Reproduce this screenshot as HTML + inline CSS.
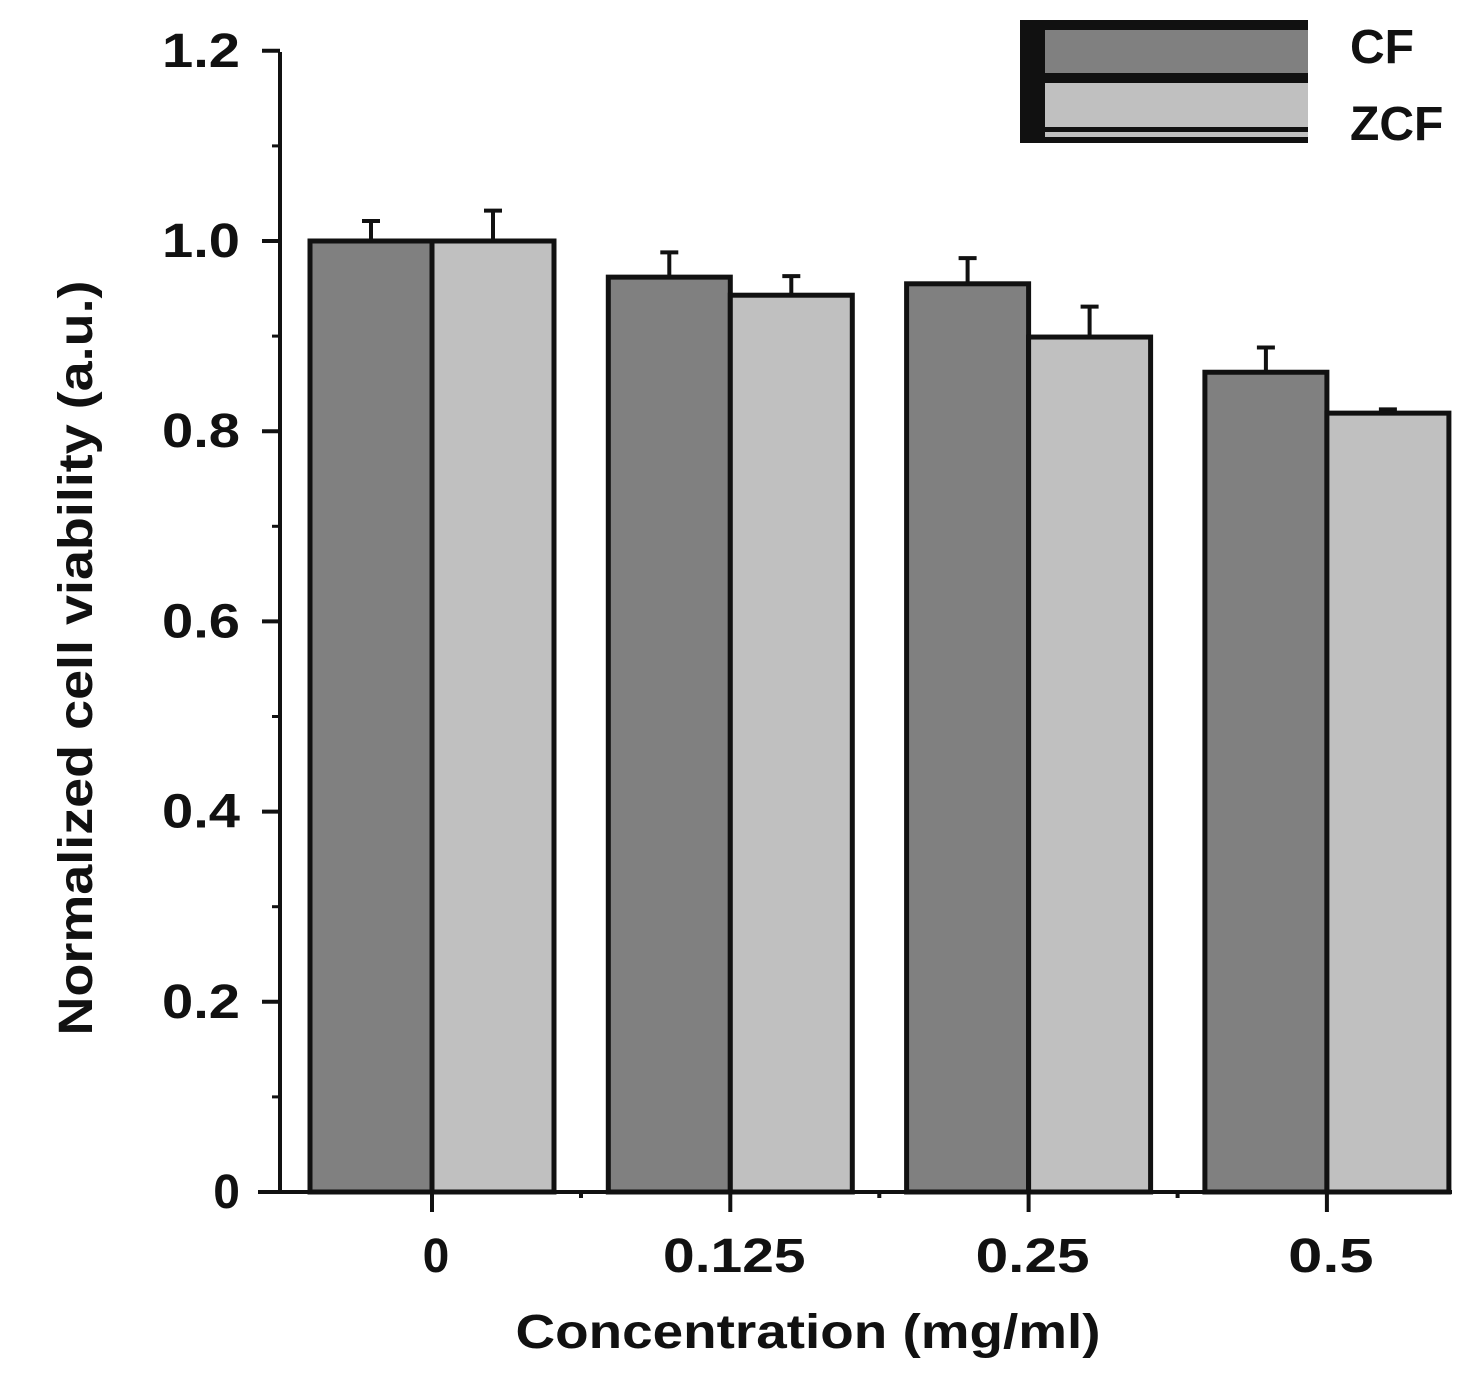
<!DOCTYPE html>
<html><head><style>
body{margin:0;background:#fff}
svg{display:block;font-family:"Liberation Sans",sans-serif}
</style></head><body>
<svg id="chart" width="1472" height="1384"></svg>
<script>
const categories=["0","0.125","0.25","0.5"];
const cfValues=[1.0,0.962,0.955,0.862];
const cfErrors=[0.021,0.026,0.027,0.026];
const zcfValues=[1.0,0.943,0.899,0.819];
const zcfErrors=[0.032,0.020,0.032,0.004];
const yTicks=["0","0.2","0.4","0.6","0.8","1.0","1.2"];
const NS="http://www.w3.org/2000/svg";
const svg=document.getElementById('chart');
function y(v){return 1192-v*951;}
function xc(i){return 432+i*298.3;}
function mk(tag,attrs,parent){const e=document.createElementNS(NS,tag);for(const k in attrs)e.setAttribute(k,attrs[k]);(parent||svg).appendChild(e);return e;}
const series=[{v:cfValues,e:cfErrors,fill:"#808080",off:-122,name:"cf"},{v:zcfValues,e:zcfErrors,fill:"#c0c0c0",off:0,name:"zcf"}];
series.forEach(s=>{
  s.v.forEach((val,i)=>{
    const x0=xc(i)+s.off;
    const top=y(val+s.e[i]);
    const eb=mk('path',{d:`M${x0+61} ${y(val)} V${top} M${x0+52} ${top} H${x0+70}`,stroke:"#111","stroke-width":4,fill:"none"});
    
    
    const r=mk('rect',{x:x0,y:y(val),width:122,height:y(0)-y(val),fill:s.fill,stroke:"#111","stroke-width":5});
    
    
  });
});
const ax=mk('path',{d:"M280 52 V1192 M258 1192 H1452",stroke:"#111","stroke-width":4,fill:"none"});


yTicks.forEach((t,i)=>{
  const v=i*0.2;
  mk('path',{d:`M262 ${y(v)} H280`,stroke:"#111","stroke-width":4});
  if(i<yTicks.length-1) mk('path',{d:`M272 ${y(v+0.1)} H280`,stroke:"#111","stroke-width":3});
  const tx=mk('text',{x:240,y:y(v)+16,"text-anchor":"end","font-size":48,"font-weight":"bold",fill:"#111"});
  if(t.length>1){tx.setAttribute('textLength',78);tx.setAttribute('lengthAdjust','spacingAndGlyphs');}
  tx.textContent=t;
  
  
});
categories.forEach((c,i)=>{
  mk('path',{d:`M${xc(i)} 1192 V1212`,stroke:"#111","stroke-width":4});
  if(i<categories.length-1) mk('path',{d:`M${xc(i)+149} 1192 V1198`,stroke:"#111","stroke-width":4});
  const tx=mk('text',{x:xc(i)+4,y:1272,"text-anchor":"middle","font-size":48,"font-weight":"bold",fill:"#111"});
  if(c.length>1){tx.setAttribute('textLength',c.length*28.5);tx.setAttribute('lengthAdjust','spacingAndGlyphs');}
  tx.textContent=c;
  
  
});
</script>
<svg style="position:absolute;left:0;top:0" width="1472" height="1384">
<text x="808" y="1348" text-anchor="middle" font-size="48" font-weight="bold" fill="#111" textLength="585" lengthAdjust="spacingAndGlyphs" font-family="Liberation Sans,sans-serif">Concentration (mg/ml)</text>
<text transform="translate(92,658) rotate(-90)" text-anchor="middle" font-size="48" font-weight="bold" fill="#111" textLength="755" lengthAdjust="spacingAndGlyphs" font-family="Liberation Sans,sans-serif">Normalized cell viability (a.u.)</text>
<g>
<rect x="1020" y="20" width="288" height="123" fill="#111"/>
<rect x="1045" y="30" width="263" height="43" fill="#808080"/>
<rect x="1045" y="83" width="263" height="44" fill="#c0c0c0"/>
<rect x="1045" y="132" width="263" height="5" fill="#c0c0c0"/>
<text x="1350" y="63" font-size="48" font-weight="bold" fill="#111" font-family="Liberation Sans,sans-serif">CF</text>
<text x="1350" y="140" font-size="48" font-weight="bold" fill="#111" font-family="Liberation Sans,sans-serif">ZCF</text>
</g>
</svg>
</body></html>
